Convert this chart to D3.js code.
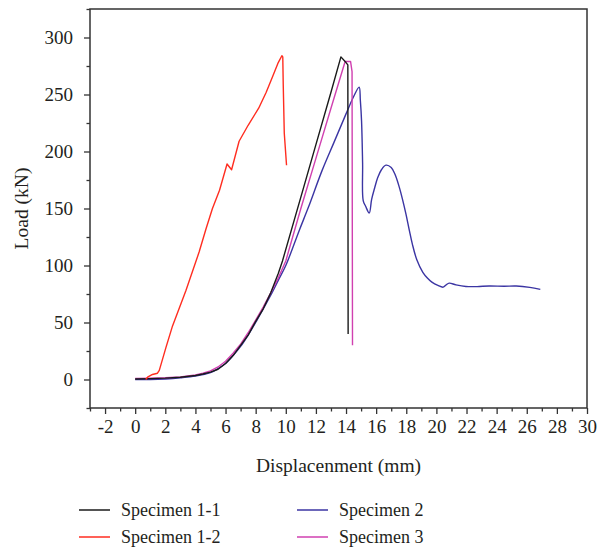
<!DOCTYPE html>
<html>
<head>
<meta charset="utf-8">
<script src="https://cdn.jsdelivr.net/npm/d3@7"></script>
<style>
  html, body { margin: 0; padding: 0; background: #fff; }
  svg { display: block; }
  text { font-family: "Liberation Serif", "Times New Roman", serif; fill: #231f20; }
</style>
</head>
<body>
<svg id="chart" width="598" height="550"></svg>
<script>
// ---- data ----
const seriesNames = ["Specimen 1-1", "Specimen 1-2", "Specimen 2", "Specimen 3"];
const seriesColors = ["#1a1a1a", "#ff2d20", "#3b35a3", "#d040b0"];

const s11X = [0, 1, 2, 3, 4, 4.5, 5, 5.5, 6, 6.5, 7, 7.5, 8, 8.5, 9, 9.5, 9.78, 11, 12, 13, 13.66, 14.0, 14.12, 14.14];
const s11Y = [0.5, 0.8, 1.2, 2, 3.5, 4.8, 6.5, 9, 14, 21, 30, 39, 51, 62, 76, 93, 104, 160, 206, 252, 283, 278, 276, 40];

const s12X = [0.7, 0.82, 1.15, 1.48, 1.6, 2.04, 2.48, 3.37, 4.25, 4.7, 5.13, 5.6, 6.1, 6.4, 6.9, 7.5, 8.2, 8.7, 9.1, 9.5, 9.74, 9.8, 9.83, 9.9, 10.05];
const s12Y = [0, 2, 4.4, 5.5, 8, 28, 47, 78, 112, 132, 150, 166, 189, 184, 209, 223, 238, 252, 265, 278, 284, 283, 259, 216, 188];

const s2X = [0, 1, 2, 3, 4, 5, 5.5, 6, 6.5, 7, 7.5, 8, 8.5, 9, 9.5, 10, 10.9, 11.5, 12.4, 13.2, 14.0, 14.5, 14.87, 14.95, 15.03, 15.1, 15.14, 15.3, 15.54, 15.7, 15.9, 16.1, 16.35, 16.65, 17.0, 17.25, 17.53, 17.75, 17.98, 18.2, 18.4, 18.7, 19.1, 19.4, 19.7, 20.1, 20.45, 20.65, 20.85, 21.3, 21.96, 22.7, 23.5, 24.5, 25.3, 26.2, 26.9];
const s2Y = [0, 0, 0.5, 1.5, 3, 6, 9.5, 14, 21, 29, 39, 50, 62, 74, 87, 100, 131, 151, 183, 208, 233, 248, 256.5, 245, 227, 190, 157, 152, 146, 158, 168, 177, 184, 188, 186, 180, 169, 158, 145, 131, 119, 105, 94, 89, 85.4, 82.5, 81, 83, 84.5, 83, 81.6, 81.5, 82, 81.8, 82, 80.8, 79];

const s3X = [0, 1, 2, 3, 4, 4.5, 5, 5.5, 6, 6.5, 7, 7.5, 8, 8.5, 9, 9.5, 10, 11, 12, 13, 13.94, 14.3, 14.4, 14.43];
const s3Y = [1, 1.2, 1.5, 2.2, 4, 5.5, 7.5, 11, 16, 23, 31, 41, 52, 63.5, 76, 89, 104, 150, 194, 238, 279, 279, 270, 30];

const xTicks = [-2, 0, 2, 4, 6, 8, 10, 12, 14, 16, 18, 20, 22, 24, 26, 28, 30];
const xMinor = [-3, -1, 1, 3, 5, 7, 9, 11, 13, 15, 17, 19, 21, 23, 25, 27, 29];
const yTicks = [0, 50, 100, 150, 200, 250, 300];
const yMinor = [-25, 25, 75, 125, 175, 225, 275, 325];

const xTitle = "Displacenment (mm)";
const yTitle = "Load (kN)";

// ---- layout ----
const svg = d3.select("#chart");
const L = 90, R = 587, T = 9, B = 408;
const x = d3.scaleLinear().domain([-3, 30]).range([L, R]);
const y = d3.scaleLinear().domain([-25, 325]).range([B, T]);

const axisColor = "#333";
const fmt = d => String(d);

// frame
svg.append("rect").attr("x", L).attr("y", T).attr("width", R - L).attr("height", B - T)
  .attr("fill", "none").attr("stroke", axisColor).attr("stroke-width", 1.5);

// x axis
const gx = svg.append("g").attr("transform", `translate(0,${B})`)
  .call(d3.axisBottom(x).tickValues(xTicks).tickSize(6).tickPadding(6).tickFormat(fmt));
gx.select(".domain").remove();
gx.selectAll(".tick line").attr("stroke", axisColor).attr("stroke-width", 1.3);
gx.selectAll(".tick text").style("font-size", "19px").attr("fill", "#231f20");
const gxm = svg.append("g").attr("transform", `translate(0,${B})`)
  .call(d3.axisBottom(x).tickValues(xMinor).tickSize(3.5).tickFormat(""));
gxm.select(".domain").remove();
gxm.selectAll(".tick line").attr("stroke", axisColor).attr("stroke-width", 1.3);

// y axis
const gy = svg.append("g").attr("transform", `translate(${L},0)`)
  .call(d3.axisLeft(y).tickValues(yTicks).tickSize(6).tickPadding(11).tickFormat(fmt));
gy.select(".domain").remove();
gy.selectAll(".tick line").attr("stroke", axisColor).attr("stroke-width", 1.3);
gy.selectAll(".tick text").style("font-size", "19px").attr("fill", "#231f20");
const gym = svg.append("g").attr("transform", `translate(${L},0)`)
  .call(d3.axisLeft(y).tickValues(yMinor).tickSize(3.5).tickFormat(""));
gym.select(".domain").remove();
gym.selectAll(".tick line").attr("stroke", axisColor).attr("stroke-width", 1.3);

// titles
svg.append("text").attr("x", (L + R) / 2).attr("y", 472).attr("text-anchor", "middle")
  .style("font-size", "19.5px").text(xTitle);
svg.append("text").attr("transform", `translate(28,${(T + B) / 2}) rotate(-90)`)
  .attr("text-anchor", "middle").style("font-size", "19.5px").text(yTitle);

// lines
const seriesData = [
  d3.zip(s11X, s11Y),
  d3.zip(s12X, s12Y),
  d3.zip(s2X, s2Y),
  d3.zip(s3X, s3Y)
];
const lineLinear = d3.line().x(d => x(d[0])).y(d => y(d[1]));
const lineSmooth = d3.line().x(d => x(d[0])).y(d => y(d[1])).curve(d3.curveCatmullRom.alpha(0.5));
const drawOrder = [2, 3, 0, 1];
drawOrder.forEach(i => {
  svg.append("path").datum(seriesData[i])
    .attr("fill", "none").attr("stroke", seriesColors[i]).attr("stroke-width", 1.4)
    .attr("stroke-linejoin", "round")
    .attr("d", i === 2 ? lineSmooth : lineLinear);
});

// legend
const legPos = [[79, 510], [79, 537], [297, 510], [297, 537]];
seriesNames.forEach((name, i) => {
  const [lx, ly] = legPos[i];
  svg.append("line").attr("x1", lx).attr("x2", lx + 31).attr("y1", ly).attr("y2", ly)
    .attr("stroke", seriesColors[i]).attr("stroke-width", 1.5);
  svg.append("text").attr("x", lx + 42).attr("y", ly + 6).style("font-size", "18px").text(name);
});
</script>
</body>
</html>
